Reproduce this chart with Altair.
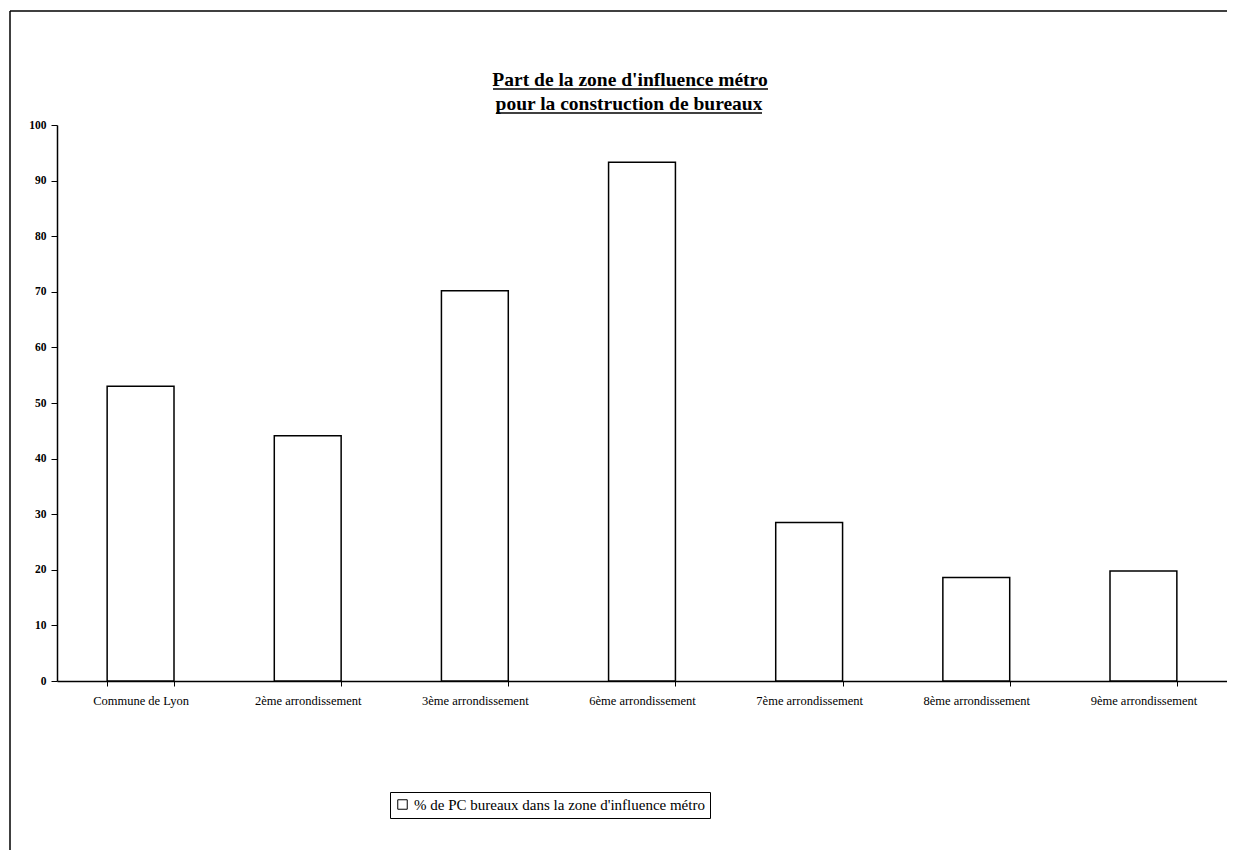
import altair as alt
import pandas as pd

categories = ["Commune de Lyon", "2ème arrondissement", "3ème arrondissement",
              "6ème arrondissement", "7ème arrondissement", "8ème arrondissement",
              "9ème arrondissement"]
values = [53.0, 44.1, 70.2, 93.3, 28.5, 18.6, 19.8]
series_name = "% de PC bureaux dans la zone d'influence métro"
y_ticks = [0, 10, 20, 30, 40, 50, 60, 70, 80, 90, 100]
title_lines = ["Part de la zone d'influence métro", "pour la construction de bureaux"]

df = pd.DataFrame({"cat": categories, "val": values, "serie": [series_name] * len(categories)})

FONT = "Liberation Serif"
W, H = 1170, 556

bars = alt.Chart(df).mark_bar(stroke="black", strokeWidth=1.5).encode(
    x=alt.X("cat:N", sort=categories, title=None,
            scale=alt.Scale(paddingInner=0.6, paddingOuter=0.3),
            axis=alt.Axis(labelAngle=0, labelFont=FONT, labelFontSize=12.5, labelColor="black",
                          labelPadding=8, labelLimit=400, tickBand="extent", tickSize=5,
                          tickColor="black", domainColor="black", domainWidth=1.5)),
    y=alt.Y("val:Q", title=None, scale=alt.Scale(domain=[0, 100], nice=False),
            axis=alt.Axis(values=y_ticks, grid=False, labelFont=FONT, labelFontSize=11.5,
                          labelFontWeight="bold", labelColor="black", labelPadding=5,
                          tickSize=6, tickColor="black", domainColor="black", domainWidth=1.5)),
    fill=alt.Fill("serie:N", scale=alt.Scale(range=["white"]),
                  legend=alt.Legend(title=None, orient="none", legendX=333, legendY=667,
                                    direction="horizontal", symbolType="square",
                                    symbolSize=90, symbolStrokeColor="black",
                                    symbolStrokeWidth=1, symbolFillColor="white",
                                    labelFont=FONT, labelFontSize=15, labelColor="black",
                                    labelLimit=500, strokeColor="black", padding=5,
                                    fillColor="white")),
)

tdf = pd.DataFrame({"t": title_lines, "line": [0, 1]})
title1 = alt.Chart(tdf[tdf.line == 0]).mark_text(
    font=FONT, fontSize=19.5, fontWeight="bold", color="black", align="center",
    baseline="alphabetic").encode(text="t:N", x=alt.value(573), y=alt.value(-39))
title2 = alt.Chart(tdf[tdf.line == 1]).mark_text(
    font=FONT, fontSize=19.5, fontWeight="bold", color="black", align="center",
    baseline="alphabetic").encode(text="t:N", x=alt.value(572), y=alt.value(-15))

deco = pd.DataFrame({"k": [0]})
underline1 = alt.Chart(deco).mark_rule(color="black", strokeWidth=1.5).encode(
    x=alt.value(436), x2=alt.value(711), y=alt.value(-36))
underline2 = alt.Chart(deco).mark_rule(color="black", strokeWidth=1.5).encode(
    x=alt.value(439), x2=alt.value(705), y=alt.value(-12))
frame_left = alt.Chart(deco).mark_rule(color="black", strokeWidth=1.5).encode(
    x=alt.value(-47), y=alt.value(-114), y2=alt.value(H + 169))
frame_top = alt.Chart(deco).mark_rule(color="black", strokeWidth=1.5).encode(
    x=alt.value(-47), x2=alt.value(W), y=alt.value(-114))

chart = alt.layer(bars, title1, title2, underline1, underline2, frame_left, frame_top).properties(
    width=W, height=H,
    autosize=alt.AutoSizeParams(type="none"),
    padding={"left": 49, "top": 117, "right": 0, "bottom": 169},
).configure(background="white").configure_view(stroke=None)

chart.save("out.html", embed_options={"renderer": "svg", "actions": False})
